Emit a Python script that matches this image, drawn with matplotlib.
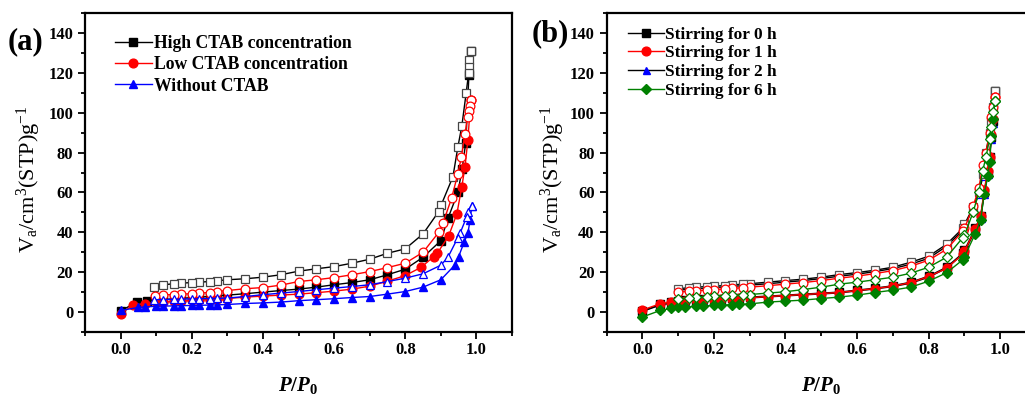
import matplotlib
matplotlib.use("Agg")
import matplotlib.pyplot as plt
from matplotlib.ticker import MultipleLocator

plt.rcParams['font.family'] = ['Liberation Serif', 'DejaVu Serif']
plt.rcParams['font.weight'] = 'bold'
plt.rcParams['mathtext.fontset'] = 'custom'
plt.rcParams['mathtext.rm'] = 'Liberation Serif:bold'
plt.rcParams['mathtext.it'] = 'Liberation Serif:bold:italic'
plt.rcParams['mathtext.bf'] = 'Liberation Serif:bold'

# ---------------- Panel (a) data ----------------
a_labels = ["High CTAB concentration", "Low CTAB concentration", "Without CTAB"]

a_high_ads_x = [0.0, 0.045, 0.073, 0.1, 0.12, 0.15, 0.17, 0.2, 0.22, 0.25, 0.27, 0.3, 0.35, 0.4, 0.45,
                0.5, 0.55, 0.6, 0.65, 0.7, 0.75, 0.8, 0.85, 0.9, 0.92, 0.948, 0.96, 0.97, 0.979, 0.985]
a_high_ads_y = [0.5, 5.0, 5.5, 6.0, 6.3, 6.6, 6.9, 7.2, 7.5, 7.8, 8.1, 8.5, 9.2, 10.0, 10.8,
                11.5, 12.5, 13.7, 14.8, 16.2, 18.7, 21.5, 27.5, 35.8, 47.0, 60.0, 72.0, 85.0, 119.0, 131.0]
a_high_des_x = [0.985, 0.980, 0.979, 0.978, 0.971, 0.959, 0.948, 0.934, 0.901, 0.894, 0.85, 0.8, 0.75,
                0.7, 0.65, 0.6, 0.55, 0.5, 0.45, 0.4, 0.35, 0.3, 0.27, 0.25, 0.22, 0.2, 0.17, 0.15, 0.12, 0.095]
a_high_des_y = [131.0, 126.3, 123.0, 119.7, 109.7, 93.3, 82.9, 67.9, 53.7, 50.4, 39.2, 31.7, 29.5,
                26.5, 24.5, 22.8, 21.7, 20.5, 18.7, 17.5, 16.7, 16.2, 15.7, 15.3, 15.0, 14.8, 14.5, 14.2, 13.7, 12.8]

a_low_ads_x = [0.0, 0.035, 0.07, 0.1, 0.12, 0.15, 0.17, 0.2, 0.22, 0.25, 0.27, 0.3, 0.35, 0.4, 0.45,
               0.5, 0.55, 0.6, 0.65, 0.7, 0.75, 0.8, 0.845, 0.88, 0.89, 0.922, 0.945, 0.959, 0.968, 0.976, 0.984]
a_low_ads_y = [-1.0, 3.6, 4.2, 4.8, 5.0, 5.3, 5.5, 5.8, 6.0, 6.3, 6.5, 6.8, 7.5, 8.0, 8.5,
               9.0, 9.7, 10.5, 11.5, 13.0, 15.5, 18.3, 22.5, 27.8, 29.5, 38.2, 49.2, 62.9, 72.9, 86.3, 106.3]
a_low_des_x = [0.984, 0.981, 0.978, 0.975, 0.968, 0.958, 0.948, 0.93, 0.906, 0.896, 0.85, 0.8, 0.75,
               0.7, 0.65, 0.6, 0.55, 0.5, 0.45, 0.4, 0.35, 0.3, 0.27, 0.25, 0.22, 0.2, 0.17, 0.15, 0.12, 0.096]
a_low_des_y = [106.3, 103.5, 101.0, 98.0, 89.5, 78.0, 69.4, 57.0, 44.6, 40.4, 30.0, 24.5, 22.3,
               20.3, 18.7, 17.3, 16.2, 15.3, 13.5, 12.3, 11.7, 10.8, 10.3, 9.8, 9.5, 9.2, 9.0, 8.7, 8.7, 8.2]

a_wo_ads_x = [0.0, 0.05, 0.07, 0.1, 0.12, 0.15, 0.17, 0.2, 0.22, 0.25, 0.27, 0.3, 0.35, 0.4, 0.45,
              0.5, 0.55, 0.6, 0.65, 0.7, 0.75, 0.8, 0.85, 0.9, 0.94, 0.95, 0.966, 0.976, 0.982, 0.987]
a_wo_ads_y = [0.8, 2.3, 2.6, 2.9, 3.0, 3.1, 3.2, 3.3, 3.4, 3.5, 3.6, 3.8, 4.3, 4.6, 5.0,
              5.7, 6.2, 6.7, 7.3, 7.8, 9.0, 10.3, 12.5, 16.2, 23.7, 27.8, 35.3, 39.5, 46.0, 53.0]
a_wo_des_x = [0.987, 0.977, 0.973, 0.954, 0.947, 0.92, 0.9, 0.85, 0.8, 0.75, 0.7, 0.65, 0.6, 0.55,
              0.5, 0.45, 0.4, 0.35, 0.3, 0.27, 0.25, 0.22, 0.2, 0.17, 0.15, 0.12, 0.095]
a_wo_des_y = [53.0, 50.4, 47.9, 39.5, 37.0, 27.5, 23.5, 19.2, 17.0, 15.3, 13.7, 12.8, 12.0, 11.2,
              10.3, 9.5, 8.7, 7.8, 7.0, 6.9, 6.8, 6.7, 6.6, 6.5, 6.4, 6.3, 6.2]

# ---------------- Panel (b) data ----------------
b_labels = ["Stirring for 0 h", "Stirring for 1 h", "Stirring for 2 h", "Stirring for 6 h"]

b_x_ads = [0.0, 0.05, 0.08, 0.1, 0.12, 0.15, 0.17, 0.2, 0.22, 0.25, 0.27, 0.3, 0.35, 0.4, 0.45, 0.5,
           0.55, 0.6, 0.65, 0.7, 0.75, 0.8, 0.85, 0.895, 0.9, 0.93, 0.945, 0.955, 0.965, 0.97, 0.975, 0.98, 0.985]
b_x_des = [0.985, 0.98, 0.975, 0.97, 0.96, 0.951, 0.94, 0.924, 0.9, 0.895, 0.85, 0.8, 0.75, 0.7, 0.65,
           0.6, 0.55, 0.5, 0.45, 0.4, 0.35, 0.3, 0.28, 0.25, 0.23, 0.2, 0.18, 0.15, 0.13, 0.1]

b_0h_ads_y = [0.5, 3.8, 4.8, 5.5, 5.8, 6.1, 6.4, 6.6, 6.8, 7.0, 7.2, 7.5, 8.0, 8.5, 9.0, 9.5,
              10.0, 11.0, 12.0, 13.2, 15.0, 18.0, 22.5, 29.5, 31.0, 42.0, 48.0, 60.0, 70.0, 78.0, 88.0, 96.0, 111.0]
b_0h_des_y = [111.0, 103.0, 96.0, 90.0, 80.0, 69.0, 60.0, 52.5, 44.0, 42.0, 34.0, 28.0, 25.0, 22.5, 21.0,
              19.8, 18.8, 17.5, 16.5, 15.8, 15.0, 14.2, 14.0, 13.6, 13.3, 13.0, 12.8, 12.5, 12.2, 11.7]

b_1h_ads_y = [1.0, 4.2, 5.0, 5.2, 5.5, 5.8, 6.0, 6.3, 6.5, 6.8, 7.0, 7.2, 7.8, 8.3, 8.8, 9.3,
              9.8, 10.8, 11.8, 13.0, 14.8, 17.8, 22.0, 29.0, 30.5, 41.5, 48.0, 61.0, 71.0, 78.0, 89.0, 97.0, 108.0]
b_1h_des_y = [108.0, 103.0, 98.0, 90.0, 80.0, 74.0, 62.0, 53.0, 42.0, 40.5, 31.5, 26.0, 23.0, 20.8, 19.3,
              18.0, 17.0, 15.8, 14.8, 14.0, 13.2, 12.5, 12.2, 11.9, 11.6, 11.3, 11.0, 10.7, 10.4, 10.0]

b_2h_ads_y = [0.3, 3.5, 4.5, 5.0, 5.3, 5.6, 5.9, 6.2, 6.4, 6.7, 6.9, 7.1, 7.6, 8.1, 8.6, 9.1,
              9.6, 10.6, 11.6, 12.8, 14.5, 17.5, 22.0, 29.0, 30.0, 41.0, 47.0, 59.0, 69.0, 77.0, 87.0, 95.0, 109.0]
b_2h_des_y = [109.0, 102.0, 95.0, 89.0, 79.0, 68.0, 59.0, 52.0, 43.0, 41.0, 33.0, 27.0, 24.0, 21.8, 20.3,
              19.0, 18.0, 16.8, 15.8, 15.0, 14.2, 13.5, 13.2, 12.9, 12.6, 12.3, 12.0, 11.7, 11.4, 11.0]

b_6h_ads_y = [-2.5, 0.8, 1.8, 2.3, 2.6, 2.9, 3.1, 3.3, 3.5, 3.7, 3.9, 4.1, 5.0, 5.5, 6.0, 6.8,
              7.5, 8.5, 9.8, 11.0, 12.5, 15.5, 19.7, 26.2, 27.8, 39.3, 46.0, 59.3, 68.0, 75.2, 88.5, 97.0, 106.0]
b_6h_des_y = [106.0, 100.2, 93.0, 86.9, 77.7, 71.0, 60.0, 50.1, 38.5, 37.3, 27.5, 22.5, 19.5, 17.5, 16.2,
              15.0, 14.0, 12.5, 11.3, 10.2, 9.5, 8.8, 8.6, 8.4, 8.2, 8.0, 7.8, 7.6, 7.2, 6.5]

# ---------------- Figure ----------------
W, H = 1025, 398
fig = plt.figure(figsize=(W / 100, H / 100), dpi=100)
ax_a = fig.add_axes([85 / W, 66 / H, 427 / W, 319 / H])
ax_b = fig.add_axes([606.5 / W, 66 / H, 429.6 / W, 319 / H])

lw = 1.0
ms = 6.3


def style_axes(ax):
    ax.set_xlim(-0.1, 1.1)
    ax.set_ylim(-10, 150)
    ax.xaxis.set_major_locator(MultipleLocator(0.2))
    ax.xaxis.set_minor_locator(MultipleLocator(0.1))
    ax.yaxis.set_major_locator(MultipleLocator(20))
    ax.yaxis.set_minor_locator(MultipleLocator(10))
    ax.set_xticks([0.0, 0.2, 0.4, 0.6, 0.8, 1.0])
    ax.set_yticks([0, 20, 40, 60, 80, 100, 120, 140])
    ax.tick_params(which='both', direction='out', top=False, right=False, width=1.3)
    ax.tick_params(which='major', length=5, labelsize=12)
    ax.tick_params(which='minor', length=3)
    ax.tick_params(axis='x', which='major', pad=2)
    for lab in ax.get_xticklabels() + ax.get_yticklabels():
        lab.set_fontweight('bold')
    for sp in ax.spines.values():
        sp.set_linewidth(1.6)
    ax.set_xlabel(r'$\mathit{P/P_0}$', fontsize=15)
    ax.xaxis.set_label_coords(0.5, -0.135)
    ax.set_ylabel(r'V$_\mathregular{a}$/cm$^\mathregular{3}$(STP)g$^\mathregular{-1}$', fontsize=16)


# Panel (a)
a_series = [
    (a_high_ads_x, a_high_ads_y, a_high_des_x, a_high_des_y, 'black', 's', a_labels[0]),
    (a_low_ads_x, a_low_ads_y, a_low_des_x, a_low_des_y, 'red', 'o', a_labels[1]),
    (a_wo_ads_x, a_wo_ads_y, a_wo_des_x, a_wo_des_y, 'blue', '^', a_labels[2]),
]
for ax_x, ax_y, dx, dy, c, m, lab in a_series:
    ax_a.plot(ax_x, ax_y, color=c, lw=lw, marker=m, ms=ms, mfc=c, mec=c, label=lab, zorder=3)
    ax_a.plot(dx, dy, color=c, lw=lw, marker=m, ms=ms, mfc='white', mec=c if c != 'black' else '#444444',
              mew=0.9, zorder=3)
style_axes(ax_a)
ax_a.yaxis.set_label_coords(-0.098, 0.48)
leg = ax_a.legend(loc='upper left', bbox_to_anchor=(0.045, 0.965), frameon=False, fontsize=12.7,
                  handlelength=2.1, handletextpad=0.1, labelspacing=0.25, borderaxespad=0.2)
for t in leg.get_texts():
    t.set_fontweight('bold')

# Panel (b)
b_series = [
    (b_2h_ads_y, b_2h_des_y, 'black', 'blue', '^', b_labels[2], 1),
    (b_0h_ads_y, b_0h_des_y, 'black', 'black', 's', b_labels[0], 2),
    (b_1h_ads_y, b_1h_des_y, 'red', 'red', 'o', b_labels[1], 3),
    (b_6h_ads_y, b_6h_des_y, 'green', 'green', 'D', b_labels[3], 4),
]
handles = {}
for ay, dy, lc, mc, m, lab, z in b_series:
    msz = ms * 0.85 if m == 'D' else (ms * 0.8 if m == '^' else ms)
    h, = ax_b.plot(b_x_ads, ay, color=lc, lw=lw, marker=m, ms=msz, mfc=mc, mec=mc, label=lab, zorder=z)
    ax_b.plot(b_x_des, dy, color=lc, lw=lw, marker=m, ms=msz, mfc='white',
              mec=mc if mc != 'black' else '#555555', mew=0.9, zorder=z)
    handles[lab] = h
style_axes(ax_b)
ax_b.yaxis.set_label_coords(-0.092, 0.48)
leg = ax_b.legend([handles[l] for l in b_labels], b_labels, loc='upper left',
                  bbox_to_anchor=(0.025, 0.99), frameon=False, fontsize=12.4,
                  handlelength=2.1, handletextpad=0.1, labelspacing=0.16, borderaxespad=0.2)
for t in leg.get_texts():
    t.set_fontweight('bold')

fig.text(8 / W, 1 - 42 / H, '(a)', fontsize=22, fontweight='bold', ha='left', va='center')
fig.text(532 / W, 1 - 34 / H, '(b)', fontsize=22, fontweight='bold', ha='left', va='center')

fig.savefig('out.png', dpi=100)
